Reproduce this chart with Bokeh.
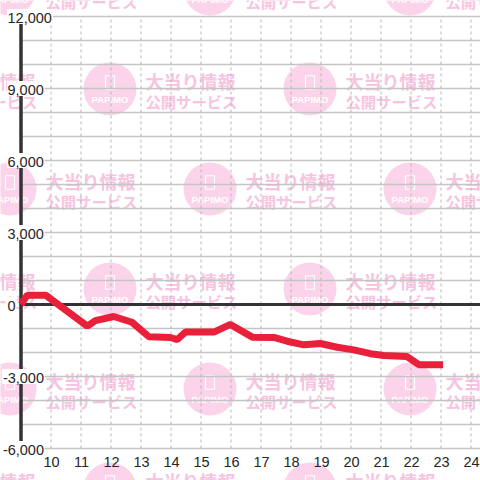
import numpy as np
from bokeh.plotting import figure
from bokeh.models import Range1d, ColumnDataSource, LabelSet
from bokeh.core.properties import value
from bokeh.embed import file_html
from bokeh.resources import INLINE

# ---- data ----
hours = [9.0, 9.21, 9.82, 11.21, 11.48, 12.09, 12.7, 13.26, 13.98, 14.21, 14.48,
         15.43, 15.98, 16.71, 17.43, 17.87, 18.43, 18.98, 19.54, 20.09, 20.65,
         21.09, 21.87, 22.26, 23.07]
values = [0, 390, 390, -900, -670, -500, -740, -1340, -1375, -1460, -1150,
          -1150, -830, -1360, -1370, -1530, -1680, -1625, -1780, -1890, -2050,
          -2125, -2170, -2510, -2510]
x_ticks = list(range(10, 25))
x_labels = [str(h) for h in x_ticks]
y_ticks = list(range(-6000, 12001, 3000))
y_labels = [f"{v:,}" for v in y_ticks]
y_minor = list(range(-6000, 12001, 1000))
axis_hour = 9
wm_line1 = "大当り情報"
wm_line2 = "公開サービス"
wm_logo = "PAPIMO"

# ---- figure ----
W = H = 480
x0 = axis_hour - 20.5 / 30
x1 = axis_hour + 459.5 / 30
y_lo = -(480 - 304) / 0.024
y_hi = 304 / 0.024
p = figure(width=W, height=H, output_backend="svg", toolbar_location=None,
           x_range=Range1d(x0, x1), y_range=Range1d(y_lo, y_hi),
           x_axis_type=None, y_axis_type=None, min_border=0,
           background_fill_color="white", border_fill_color="white",
           outline_line_color=None)
p.grid.visible = False
p.styles = {"position": "absolute", "left": "0px", "top": "0px"}
p.extra_x_ranges = {"px": Range1d(0, 480)}
p.extra_y_ranges = {"px": Range1d(480, 0)}

# ---- watermark (decorative, pixel space) ----
cx, cy = [], []
for r in range(-1, 5):
    yy = 88.5 + 100 * r
    xs = [-90.5, 109.5, 309.5] if r % 2 == 0 else [9.5, 209.5, 409.5]
    for xx in xs:
        cx.append(xx)
        cy.append(yy)
cx = np.array(cx)
cy = np.array(cy)
n = len(cx)
wm = ColumnDataSource(dict(cx=cx, cy=cy, py=cy - 6.5, ly=cy + 10.5,
                           tx=cx + 35.5, t1y=cy - 8.5, t2y=cy + 12,
                           t1=[wm_line1] * n, t2=[wm_line2] * n, lg=[wm_logo] * n))
pink = "#fbd3ea"
pink_txt = "#f7c3e0"
p.scatter("cx", "cy", source=wm, size=53, marker="circle", fill_color=pink,
          line_color=None, x_range_name="px", y_range_name="px")
p.rect("cx", "py", width=9, height=13.5, source=wm, fill_color=None,
       line_color="white", line_width=1.2, x_range_name="px", y_range_name="px")
p.text("cx", "ly", text="lg", source=wm, text_color="white",
       text_font=value("Liberation Sans"), text_font_style="bold",
       text_font_size="9.5px", text_align="center", text_baseline="middle",
       x_range_name="px", y_range_name="px")
p.text("tx", "t1y", text="t1", source=wm, text_color=pink_txt,
       text_font=value("Noto Sans CJK JP"), text_font_style="bold",
       text_font_size="18px", text_align="left", text_baseline="middle",
       x_range_name="px", y_range_name="px")
p.text("tx", "t2y", text="t2", source=wm, text_color=pink_txt,
       text_font=value("Noto Sans CJK JP"), text_font_style="bold",
       text_font_size="15.3px", text_align="left", text_baseline="middle",
       x_range_name="px", y_range_name="px")

# ---- grid ----
p.segment(x0=[axis_hour] * len(y_minor), y0=y_minor, x1=[x1] * len(y_minor),
          y1=y_minor, line_color="#c4c4c4", line_width=1.3)
p.segment(x0=x_ticks, y0=[y_ticks[0]] * len(x_ticks), x1=x_ticks,
          y1=[y_ticks[-1]] * len(x_ticks), line_color="#b8b8b8",
          line_width=1, line_dash="3 3")

# ---- axis lines ----
p.segment(x0=[axis_hour], y0=[y_ticks[0]], x1=[axis_hour], y1=[y_ticks[-1]],
          line_color="#333333", line_width=3.5)
p.segment(x0=[axis_hour], y0=[0], x1=[x1], y1=[0],
          line_color="#333333", line_width=3)

# ---- label background boxes (white, hide axis/grid under tick labels) ----
fs = 14.5
def text_w(s):
    return fs * sum(0.556 if c.isdigit() else 0.278 if c == "," else 0.333 for c in s)
bl, br, by = [], [], []
for v, l in zip(y_ticks, y_labels):
    w = text_w(l)
    if v >= 0:
        left, right = 6.5, 6.5 + w + 1.5
    else:
        left, right = 44 - w - 1.5, 44
    bl.append((left + right) / 2)
    br.append(right - left)
    by.append(v)
p.rect(x=bl, y=by, width=br, height=15, height_units="screen",
       fill_color="white", line_color=None, x_range_name="px")

# ---- data line ----
p.line(hours, values, line_color="#e8203a", line_width=7)

# ---- tick labels ----
pos = ColumnDataSource(dict(x=[axis_hour] * sum(v >= 0 for v in y_ticks),
                            y=[v for v in y_ticks if v >= 0],
                            t=[l for v, l in zip(y_ticks, y_labels) if v >= 0]))
neg = ColumnDataSource(dict(x=[axis_hour] * sum(v < 0 for v in y_ticks),
                            y=[v for v in y_ticks if v < 0],
                            t=[l for v, l in zip(y_ticks, y_labels) if v < 0]))
xl = ColumnDataSource(dict(x=x_ticks, y=[y_ticks[0]] * len(x_ticks), t=x_labels))
common = dict(text_font=value("Liberation Sans"), text_font_size=f"{fs}px",
              text_color="#262626", text_baseline="middle")
p.add_layout(LabelSet(x="x", y="y", text="t", source=pos, x_offset=-13.5,
                      y_offset=-1, text_align="left", **common))
p.add_layout(LabelSet(x="x", y="y", text="t", source=neg, x_offset=23,
                      y_offset=-1, text_align="right", **common))
p.add_layout(LabelSet(x="x", y="y", text="t", source=xl, x_offset=0.5,
                      y_offset=-13, text_align="center", **common))

open("out.html", "w").write(file_html(p, INLINE))
